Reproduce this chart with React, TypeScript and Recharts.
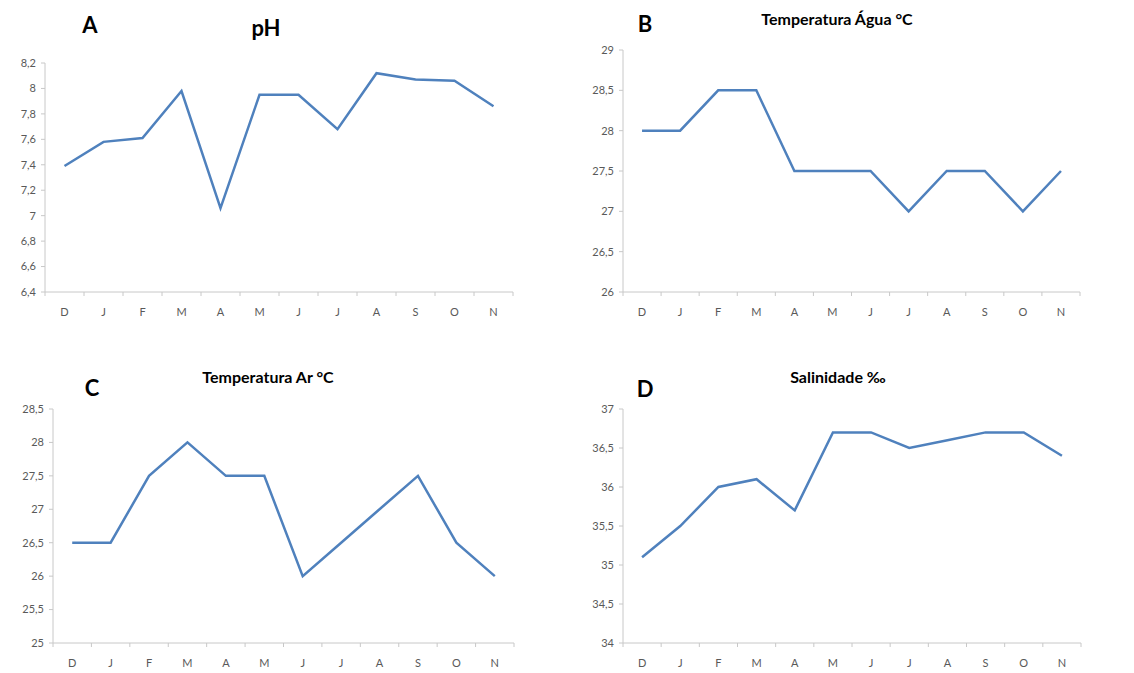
import React from 'react';
import { LineChart, Line, XAxis, YAxis } from 'recharts';

const MONTHS = ['D', 'J', 'F', 'M', 'A', 'M', 'J', 'J', 'A', 'S', 'O', 'N'];
const IDX_TICKS = [0, 1, 2, 3, 4, 5, 6, 7, 8, 9, 10, 11];

const PH = [7.39, 7.58, 7.61, 7.98, 7.06, 7.95, 7.95, 7.68, 8.12, 8.07, 8.06, 7.86];
const TEMP_AGUA = [28, 28, 28.5, 28.5, 27.5, 27.5, 27.5, 27, 27.5, 27.5, 27, 27.5];
const TEMP_AR = [26.5, 26.5, 27.5, 28, 27.5, 27.5, 26, 26.5, 27, 27.5, 26.5, 26];
const SALINIDADE = [35.1, 35.5, 36.0, 36.1, 35.7, 36.7, 36.7, 36.5, 36.6, 36.7, 36.7, 36.4];

const PH_TICKS = [6.4, 6.6, 6.8, 7, 7.2, 7.4, 7.6, 7.8, 8, 8.2];
const AGUA_TICKS = [26, 26.5, 27, 27.5, 28, 28.5, 29];
const AR_TICKS = [25, 25.5, 26, 26.5, 27, 27.5, 28, 28.5];
const SAL_TICKS = [34, 34.5, 35, 35.5, 36, 36.5, 37];

const FONT = 'Lato, "Open Sans", sans-serif';
const AXIS_COLOR = '#c8c8c8';
const LABEL_COLOR = '#595959';
const LINE_COLOR = '#4f81bd';

const fmt = (v: number) => String(v).replace('.', ',');

type PanelProps = {
  left: number; top: number; width: number; height: number;
  pl: number; pr: number; pt: number; pb: number;
  values: number[]; ticks: number[];
};

const TICK_MARGIN = 16;

function Panel({ left, top, width, height, pl, pr, pt, pb, values, ticks }: PanelProps) {
  const data = values.map((v, i) => ({ idx: i, month: MONTHS[i], v }));
  const half = (pr - pl) / 24;
  const XTick = (p: any) => {
    const axisY = p.y - TICK_MARGIN;
    const i = p.payload.value;
    return (
      <g>
        <line x1={p.x - half} x2={p.x - half} y1={axisY} y2={axisY + 4} stroke={AXIS_COLOR} />
        {i === 11 && <line x1={p.x + half} x2={p.x + half} y1={axisY} y2={axisY + 4} stroke={AXIS_COLOR} />}
        <text x={p.x} y={p.y} dy="0.71em" textAnchor="middle" fill={LABEL_COLOR} fontSize={11} fontFamily={FONT}>
          {MONTHS[i]}
        </text>
      </g>
    );
  };
  return (
    <div style={{ position: 'absolute', left, top, width, height }}>
      <LineChart
        width={width}
        height={height}
        data={data}
        margin={{ top: pt, right: width - pr, bottom: height - pb - 30, left: 0 }}
      >
        <XAxis
          dataKey="idx"
          type="number"
          domain={[-0.5, 11.5]}
          ticks={IDX_TICKS}
          interval={0}
          height={30}
          tickLine={false}
          tickSize={0}
          tickMargin={TICK_MARGIN}
          axisLine={{ stroke: AXIS_COLOR }}
          tick={XTick}
        />
        <YAxis
          type="number"
          width={pl}
          domain={[ticks[0], ticks[ticks.length - 1]]}
          ticks={ticks}
          interval={0}
          tickSize={4}
          tickMargin={5}
          tickFormatter={fmt}
          axisLine={{ stroke: AXIS_COLOR }}
          tickLine={{ stroke: AXIS_COLOR }}
          tick={{ fill: LABEL_COLOR, fontSize: 11, fontFamily: FONT }}
        />
        <Line
          type="linear"
          dataKey="v"
          stroke={LINE_COLOR}
          strokeWidth={2.5}
          dot={false}
          isAnimationActive={false}
        />
      </LineChart>
    </div>
  );
}

function Label({ x, y, size, children }: { x: number; y: number; size: number; children: React.ReactNode }) {
  return (
    <div
      style={{
        position: 'absolute', left: x, top: y, transform: 'translate(-50%, -50%)',
        fontFamily: FONT, fontWeight: 700, fontSize: size, color: '#000', whiteSpace: 'nowrap', lineHeight: 1,
      }}
    >
      {children}
    </div>
  );
}

export default function App() {
  return (
    <div style={{ position: 'absolute', left: 0, top: 0, width: 1134, height: 673, background: '#fff', overflow: 'hidden' }}>
      <Panel left={0} top={0} width={560} height={330} pl={45} pr={513} pt={63} pb={292} values={PH} ticks={PH_TICKS} />
      <Panel left={560} top={0} width={574} height={330} pl={63} pr={520} pt={50} pb={292} values={TEMP_AGUA} ticks={AGUA_TICKS} />
      <Panel left={0} top={330} width={560} height={343} pl={53} pr={514} pt={79} pb={313} values={TEMP_AR} ticks={AR_TICKS} />
      <Panel left={560} top={330} width={574} height={343} pl={63} pr={521} pt={79} pb={313} values={SALINIDADE} ticks={SAL_TICKS} />

      <Label x={90} y={25} size={22}>A</Label>
      <Label x={266} y={28} size={22}>pH</Label>
      <Label x={645} y={24} size={22}>B</Label>
      <Label x={837} y={19} size={16}>Temperatura Água °C</Label>
      <Label x={92} y={388} size={22}>C</Label>
      <Label x={268} y={377} size={16}>Temperatura Ar °C</Label>
      <Label x={645} y={389} size={22}>D</Label>
      <Label x={838} y={377} size={16}>Salinidade ‰</Label>
    </div>
  );
}
